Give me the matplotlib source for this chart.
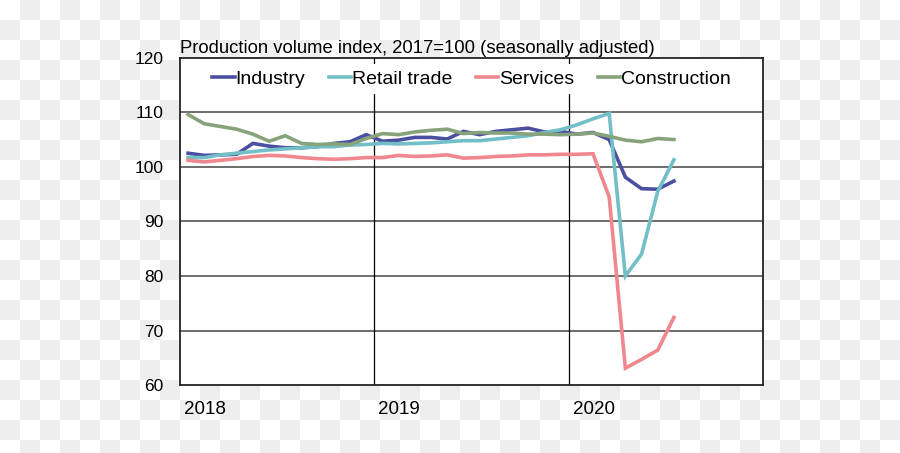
import numpy as np
import matplotlib
matplotlib.use('Agg')
import matplotlib.pyplot as plt
import matplotlib.transforms as mtransforms

plt.rcParams['font.family'] = ['Liberation Sans', 'DejaVu Sans']

#monthly index values, Jan 2018 - Jul 2020
industry = [102.5, 102.1, 102.2, 102.3, 104.3, 103.8, 103.5, 103.5, 103.7, 104.3, 104.6, 105.9,
            104.7, 104.9, 105.4, 105.4, 105.1, 106.5, 105.9, 106.5, 106.8, 107.1, 106.4, 106.5,
            106.0, 106.3, 105.0, 98.1, 96.0, 95.9, 97.4]
retail = [101.7, 101.7, 102.2, 102.5, 102.8, 103.1, 103.3, 103.5, 103.7, 103.7, 104.0, 104.1,
          104.3, 104.2, 104.3, 104.4, 104.6, 104.8, 104.8, 105.1, 105.4, 105.7, 106.3, 106.8,
          107.7, 108.8, 109.8, 80.0, 84.0, 95.5, 101.3]
services = [101.2, 100.9, 101.2, 101.5, 101.9, 102.1, 102.0, 101.7, 101.5, 101.4, 101.5, 101.7,
            101.7, 102.1, 101.9, 102.0, 102.2, 101.6, 101.7, 101.9, 102.0, 102.2, 102.2, 102.3,
            102.3, 102.4, 94.5, 63.1, 64.7, 66.4, 72.4]
construction = [109.6, 107.9, 107.4, 106.9, 106.0, 104.7, 105.7, 104.3, 104.1, 104.2, 104.1, 105.2,
                106.1, 105.9, 106.4, 106.7, 106.9, 106.1, 106.3, 106.2, 106.2, 106.0, 106.0, 105.9,
                106.0, 106.2, 105.6, 104.9, 104.6, 105.2, 105.0]
years = ['2018', '2019', '2020']
yticks = [60, 70, 80, 90, 100, 110, 120]
n_months = 36

series = [('Industry', industry, '#4b4fa0'),
          ('Retail trade', retail, '#72bfc8'),
          ('Services', services, '#f0878e'),
          ('Construction', construction, '#86a37b')]

fig = plt.figure(figsize=(9, 4.53), dpi=100)
fig.patch.set_alpha(0)

#checkered background like a transparent png
h, w = 453, 900
rr, cc = np.mgrid[0:h, 0:w]
check = np.where(((rr // 20) + (cc // 20)) % 2 == 1, 0.937, 1.0)
bg = np.dstack([check, check, check])
fig.figimage(bg, xo=0, yo=0, origin='upper', zorder=-10)

ax = fig.add_axes([0.2, 0.15, 0.6478, 0.7225])
ax.set_facecolor('white')

x = np.arange(len(industry))
for name, vals, col in series:
    ax.plot(x, vals, color=col, lw=2.6, label=name, solid_joinstyle='miter', zorder=3)

ax.set_xlim(-0.5, n_months - 0.5)
ax.set_ylim(60, 120)
ax.set_yticks(yticks)
ax.set_yticklabels([str(t) for t in yticks], fontsize=12.5)
ax.tick_params(axis='y', length=0, pad=12)
ax.set_xticks([])

#gridlines
for t in yticks[1:-1]:
    ax.axhline(t, color='#6e6e6e', lw=1.4, zorder=1)
for k in range(1, len(years)):
    ax.axvline(12 * k - 0.5, color='black', lw=0.9, zorder=1)

for s in ax.spines.values():
    s.set_color('#222222')
    s.set_linewidth(1.3)

#year labels under the axis
trans = mtransforms.blended_transform_factory(ax.transData, ax.transAxes)
for k, yr in enumerate(years):
    ax.text(12 * k - 0.25, -0.075, yr, transform=trans, ha='left', va='center', fontsize=13.5)

fig.text(0.2, 1 - 53 / 453, 'Production volume index, 2017=100 (seasonally adjusted)',
         ha='left', va='baseline', fontsize=13.3)

leg = ax.legend(loc='upper center', bbox_to_anchor=(0.5, 0.98), ncol=4, frameon=True,
                fancybox=False, framealpha=1, facecolor='white', edgecolor='none',
                handlelength=1.15, handletextpad=0.05, columnspacing=1.2, fontsize=14,
                borderpad=0.3, borderaxespad=0)
leg.set_zorder(5)

fig.savefig('out.png', dpi=100)
